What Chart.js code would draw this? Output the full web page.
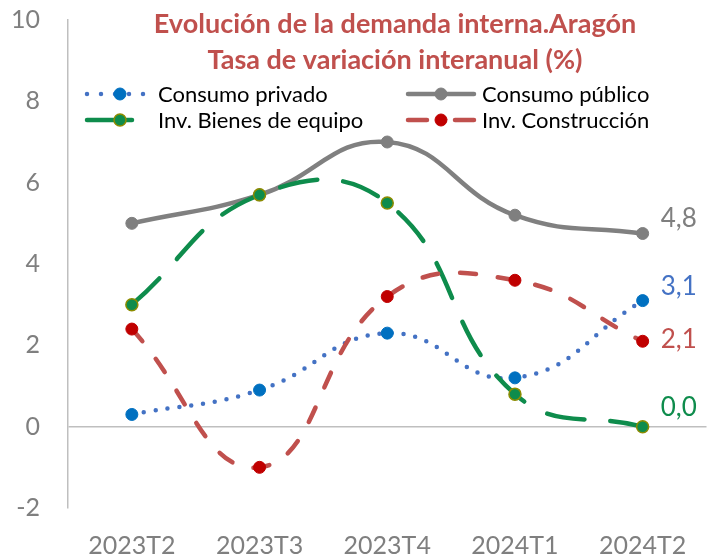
<!DOCTYPE html>
<html>
<head>
<meta charset="utf-8">
<script src="https://cdn.jsdelivr.net/npm/chart.js@4.4.1/dist/chart.umd.min.js"></script>
<style>
  html, body { margin: 0; padding: 0; background: #fff; }
  #wrap { width: 714px; height: 560px; }
</style>
</head>
<body>
<div id="wrap"><canvas id="demanda-chart" width="714" height="560"></canvas></div>
<script>
const categories = ['2023T2', '2023T3', '2023T4', '2024T1', '2024T2'];
const consumoPrivado = [0.3, 0.9, 2.3, 1.2, 3.1];
const consumoPublico = [5.0, 5.7, 7.0, 5.2, 4.75];
const invBienesEquipo = [3.0, 5.7, 5.5, 0.8, 0.0];
const invConstruccion = [2.4, -1.0, 3.2, 3.6, 2.1];
const titleLines = ['Evolución de la demanda interna.Aragón', 'Tasa de variación interanual (%)'];

const FONT = 'Lato, "DejaVu Sans", sans-serif';

// titulo, leyenda y etiquetas finales dibujados a mano
const extrasPlugin = {
  id: 'extras',
  afterDraw: (chart) => {
    const ctx = chart.ctx;
    ctx.save();
    // titulo
    ctx.fillStyle = '#C0504D';
    ctx.font = 'bold 27px ' + FONT;
    ctx.textAlign = 'center';
    ctx.textBaseline = 'middle';
    ctx.fillText(titleLines[0], 395, 24);
    ctx.fillText(titleLines[1], 395, 60);

    // leyenda
    const slots = [
      {x: 87, y: 94, text: 158}, {x: 408, y: 94, text: 482},
      {x: 87, y: 120, text: 158}, {x: 408, y: 120, text: 482}
    ];
    chart.data.datasets.forEach((ds, i) => {
      const s = slots[i];
      ctx.save();
      ctx.strokeStyle = ds.borderColor;
      ctx.lineWidth = ds.borderWidth;
      ctx.lineCap = 'round';
      ctx.setLineDash(ds.legendDash);
      ctx.beginPath();
      ctx.moveTo(s.x, s.y);
      ctx.lineTo(s.x + 66, s.y);
      ctx.stroke();
      ctx.setLineDash([]);
      ctx.beginPath();
      ctx.arc(s.x + 33, s.y, ds.pointRadius, 0, Math.PI * 2);
      ctx.fillStyle = ds.pointBackgroundColor;
      ctx.fill();
      ctx.lineWidth = ds.pointBorderWidth;
      ctx.strokeStyle = ds.pointBorderColor;
      ctx.stroke();
      ctx.restore();
      ctx.fillStyle = '#000';
      ctx.font = '22px ' + FONT;
      ctx.textAlign = 'left';
      ctx.textBaseline = 'middle';
      ctx.fillText(ds.label, s.text, s.y + 1);
    });

    // etiquetas del ultimo punto
    chart.data.datasets.forEach((ds, i) => {
      const meta = chart.getDatasetMeta(i);
      const pt = meta.data[meta.data.length - 1];
      const v = ds.data[ds.data.length - 1];
      ctx.fillStyle = ds.endLabelColor;
      ctx.font = '26px ' + FONT;
      ctx.textAlign = 'left';
      ctx.textBaseline = 'middle';
      ctx.fillText(v.toFixed(1).replace('.', ','), pt.x + 18, pt.y + ds.endLabelShift);
    });
    ctx.restore();
  }
};

const chart = new Chart(document.getElementById('demanda-chart').getContext('2d'), {
  type: 'line',
  data: {
    labels: categories,
    datasets: [{
      label: 'Consumo privado',
      data: consumoPrivado,
      borderColor: '#4472C4',
      borderWidth: 4.5,
      borderDash: [0, 12],
      borderCapStyle: 'round',
      legendDash: [0, 14],
      pointRadius: 6,
      pointBackgroundColor: '#0070C0',
      pointBorderColor: '#0070C0',
      pointBorderWidth: 1,
      endLabelColor: '#4472C4',
      endLabelShift: -14,
      order: 3
    }, {
      label: 'Consumo público',
      data: consumoPublico,
      borderColor: '#808080',
      borderWidth: 4.5,
      borderDash: [],
      borderCapStyle: 'round',
      legendDash: [],
      pointRadius: 6,
      pointBackgroundColor: '#7F7F7F',
      pointBorderColor: '#7F7F7F',
      pointBorderWidth: 1,
      endLabelColor: '#7F7F7F',
      endLabelShift: -15,
      order: 2
    }, {
      label: 'Inv. Bienes de equipo',
      data: invBienesEquipo,
      borderColor: '#0E8C4C',
      borderWidth: 4.5,
      borderDash: [38, 26],
      borderCapStyle: 'round',
      legendDash: [45, 40],
      pointRadius: 6,
      pointBackgroundColor: '#0E8C4C',
      pointBorderColor: '#8C8C00',
      pointBorderWidth: 1.5,
      endLabelColor: '#0E8C4C',
      endLabelShift: -19,
      order: 1
    }, {
      label: 'Inv. Construcción',
      data: invConstruccion,
      borderColor: '#C0504D',
      borderWidth: 4.5,
      borderDash: [16, 22],
      borderCapStyle: 'round',
      legendDash: [19, 28],
      pointRadius: 6,
      pointBackgroundColor: '#C00000',
      pointBorderColor: '#C00000',
      pointBorderWidth: 1,
      endLabelColor: '#C0504D',
      endLabelShift: -2,
      order: 0
    }]
  },
  plugins: [extrasPlugin],
  options: {
    responsive: false,
    animation: false,
    layout: { padding: { top: 20, right: 5, left: 0, bottom: 0 } },
    elements: { line: { tension: 0.45, fill: false } },
    plugins: {
      legend: { display: false },
      title: { display: false },
      tooltip: { enabled: false }
    },
    scales: {
      x: {
        offset: true,
        grid: { display: false, drawTicks: false },
        border: { display: false },
        ticks: { color: '#7F7F7F', font: { family: FONT, size: 25 }, padding: 23 },
        afterFit: (scale) => { scale.height = 52; }
      },
      y: {
        min: -2,
        max: 10,
        grid: {
          drawTicks: true,
          tickLength: 28,
          tickColor: 'rgba(0,0,0,0)',
          color: (c) => c.tick && c.tick.value === 0 ? '#BFBFBF' : 'rgba(0,0,0,0)',
          lineWidth: 1.5
        },
        border: { display: true, color: '#BFBFBF', width: 1.5 },
        ticks: { stepSize: 2, color: '#7F7F7F', font: { family: FONT, size: 25 }, padding: 0 },
        afterFit: (scale) => { scale.width = 68; }
      }
    }
  }
});
</script>
</body>
</html>
